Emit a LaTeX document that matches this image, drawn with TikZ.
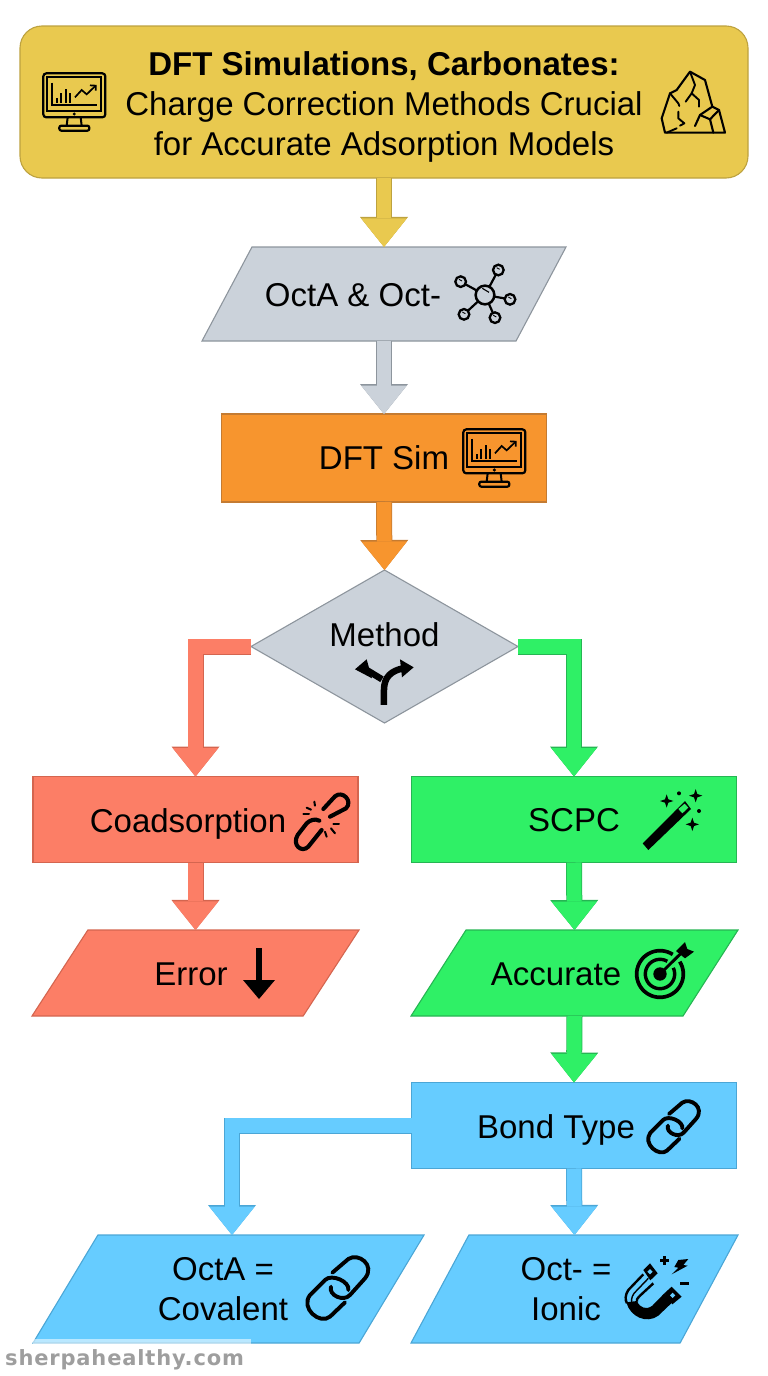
\documentclass[tikz,border=0pt]{standalone}
\usepackage{fontspec}
\setmainfont{Liberation Sans}
\newfontfamily\markfont[LetterSpace=4]{DejaVu Sans}
\usetikzlibrary{shapes.geometric}
\usetikzlibrary{arrows.meta}

\definecolor{titlefill}{HTML}{E9C94F}
\definecolor{titleedge}{HTML}{BDA23F}
\definecolor{greyfill}{HTML}{CBD2DA}
\definecolor{greyedge}{HTML}{8D959D}
\definecolor{orangefill}{HTML}{F7952E}
\definecolor{orangeedge}{HTML}{C47B32}
\definecolor{redfill}{HTML}{FC7E66}
\definecolor{rededge}{HTML}{D4654F}
\definecolor{greenfill}{HTML}{2FF066}
\definecolor{greenedge}{HTML}{26B553}
\definecolor{bluefill}{HTML}{66CCFF}
\definecolor{blueedge}{HTML}{4BA6D6}

\tikzset{
    flowfont/.style={font=\fontsize{33}{40}\selectfont},
    flowbox/.style={rectangle, draw=#1edge, fill=#1fill, line width=1.1pt, inner sep=0pt, outer sep=0pt, minimum width=325pt, minimum height=86pt},
    flowpara/.style={trapezium, draw=#1edge, fill=#1fill, line width=1.1pt, inner sep=0pt, outer sep=0pt, trapezium stretches body=true},
    flowlabel/.style={flowfont, text=black, inner sep=0pt, text height=24pt, text depth=0pt},
    twolabel/.style={flowfont, text=black, inner sep=0pt, align=center},
    % block arrow, outline first and then the body
    flowarrow/.style={draw=#1fill, line width=14.5pt, line join=miter, -{Triangle[length=28.5pt,width=45.5pt,line width=0pt]},
        preaction={draw=#1edge, line width=16pt, -{Triangle[length=30pt,width=48pt,line width=0pt]}}},
    monitoricon/.pic={
        \draw[line width=2.2pt, rounded corners=3pt] (40,40) rectangle (226,172);
        \draw[line width=2pt] (52,52) rectangle (214,153);
        \draw[line width=1.7pt] (65,68) -- (65,135) -- (200,135);
        \foreach \barx/\bary in {80/115, 93/100, 107/88, 120/100}
            \draw[line width=1.7pt] (\barx,\bary) -- (\barx,130);
        \draw[line width=1.7pt] (135,112) -- (155,90) -- (170,103) -- (197,77);
        \draw[line width=1.7pt] (180,76) -- (197,77) -- (197,92);
        \fill (133,162) circle (5);
        \draw[line width=2pt] (113,172) -- (110,197);
        \draw[line width=2pt] (152,172) -- (155,197);
        \draw[line width=2.2pt, rounded corners=2pt] (88,197) rectangle (178,212);
    },
    rockicon/.pic={
        \draw[line width=2.1pt, line join=round, line cap=round] (45,218) -- (35,175) -- (60,100) -- (80,90) -- (120,35) -- (165,60) -- (187,140) -- (207,150) -- (225,218) -- cycle;
        \draw[line width=2.1pt, line join=round, line cap=round] (135,198) -- (150,165) -- (187,140);
        \draw[line width=2.1pt, line join=round, line cap=round] (150,165) -- (180,178) -- (190,218);
        \draw[line width=2.1pt, line cap=round] (180,178) -- (207,150);
        \draw[line width=1.9pt, line join=round, line cap=round] (120,35) -- (135,75) -- (125,100) -- (107,125);
        \draw[line width=1.9pt, line join=round, line cap=round] (125,100) -- (147,120) -- (147,140);
        \draw[line width=1.9pt, line join=round, line cap=round] (60,100) -- (85,130) -- (88,138);
        \draw[line width=1.9pt, line join=round, line cap=round] (85,155) -- (85,175) -- (103,190) -- (90,197);
        \draw[line width=1.9pt, line cap=round] (80,205) -- (50,218);
    },
    moleculeicon/.pic={
        \foreach \satx/\saty in {160/45, 47/80, 195/133, 150/188, 57/178} {
            \draw[line width=2.2pt] (120,120) -- (\satx,\saty);
            \draw[line width=2.3pt, fill=greyfill] (\satx,\saty) circle (16);
            \draw[line width=.9pt] (\satx-5,\saty-7) -- (\satx+4,\saty-2);
        }
        \draw[line width=2.5pt, fill=greyfill] (120,120) circle (28);
        \draw[line width=1.1pt] (112,100) -- (132,112);
    },
    forkicon/.pic={
        \draw[line width=6.5pt] (642,915) -- (642,870) .. controls (642,830) and (665,812) .. (700,805);
        \fill (690,778) -- (731,802) -- (696,832) -- cycle;
        \draw[line width=6.5pt] (636,838) -- (590,810);
        \fill (555,808) -- (590,778) -- (606,835) -- cycle;
    },
    brokenlinkicon/.pic={
        \draw[line width=4.1pt, line cap=round, line join=round] (115,72) -- (150,34) .. controls (172,15) and (205,48) .. (183,70) -- (135,95);
        \draw[line width=4.1pt, line cap=round] (103,107) .. controls (90,100) and (75,105) .. (65,115) -- (38,150) .. controls (20,180) and (50,205) .. (70,185) -- (110,135);
        \foreach \sparkx/\sparky/\sparku/\sparkv in {88/50/90/62, 65/68/78/74, 55/88/72/88, 120/140/125/155, 138/130/150/145, 145/118/162/118}
            \draw[line width=2pt, line cap=round] (\sparkx,\sparky) -- (\sparku,\sparkv);
    },
    wandicon/.pic={
        \fill (23,175) -- (40,195) -- (168,72) -- (150,48) -- cycle;
        \fill[greenfill] (130,72) -- (142,85) -- (160,68) -- (149,56) -- cycle;
        \fill (117,82) -- (132,98) -- (142,88) -- (127,72) -- cycle;
        \foreach \starx/\stary in {95/48, 182/32, 172/118}
            \fill[shift={(\starx,\stary)}] (0,-20) -- (5,-5) -- (20,0) -- (5,5) -- (0,20) -- (-5,5) -- (-20,0) -- (-5,-5) -- cycle;
        \fill (132,25) circle (6);
        \fill (192,78) circle (6);
    },
    targeticon/.pic={
        \draw[line width=3.7pt] plot[domain=-32:303, samples=50] ({90+70*cos(\x)},{102+70*sin(\x)});
        \draw[line width=3.4pt] plot[domain=-25:300, samples=40] ({90+44*cos(\x)},{102+44*sin(\x)});
        \fill (90,102) circle (20);
        \draw[line width=2.9pt] (90,102) -- (155,38);
        \fill (138,33) -- (165,6) -- (172,27) -- (192,35) -- (165,55) -- cycle;
    },
    chainicon/.pic={
        \draw[line width=3.9pt, line cap=round] (112,83) -- (160,42) .. controls (190,22) and (242,60) .. (210,100) -- (165,150) .. controls (145,172) and (100,150) .. (108,125);
        \draw[line width=3.9pt, line cap=round] (150,172) -- (105,215) .. controls (75,240) and (15,190) .. (45,150) -- (90,105) .. controls (110,85) and (165,110) .. (160,135);
    },
    magneticon/.pic={
        \draw[line width=2.4pt] (85,88) -- (40,135) .. controls (30,150) and (30,165) .. (36,175);
        \draw[line width=2.4pt] (115,115) -- (75,152) .. controls (65,162) and (64,166) .. (66,170);
        \draw[line width=1.4pt] (100,100) -- (57,145) .. controls (48,158) and (48,170) .. (52,180);
        \fill (34,172) .. controls (45,215) and (95,238) .. (130,212) -- (172,172) -- (148,145) -- (112,182) .. controls (95,195) and (75,190) .. (66,168) -- cycle;
        \fill (85,75) -- (105,55) -- (128,85) -- (106,106) -- cycle;
        \fill[bluefill] (105,72) -- (113,80) -- (105,88) -- (97,80) -- cycle;
        \fill (148,145) -- (170,125) -- (200,155) -- (172,178) -- cycle;
        \fill[bluefill] (173,143) -- (181,151) -- (173,159) -- (165,151) -- cycle;
        \draw[line width=2.4pt] (148,33) -- (148,60);
        \draw[line width=2.4pt] (135,47) -- (161,47);
        \draw[line width=2.4pt] (195,115) -- (222,115);
        \fill (190,45) -- (220,42) -- (205,60) -- (218,62) -- (170,88) -- (190,68) -- (178,66) -- cycle;
    },
}

\begin{document}
\begin{tikzpicture}[x=1pt, y=-1pt]
    \useasboundingbox (0,0) rectangle (768,1376);

    % boxes, top to bottom
    \node[rectangle, rounded corners=22pt, draw=titleedge, fill=titlefill, line width=1.1pt, inner sep=0pt, outer sep=0pt, minimum width=728pt, minimum height=152pt, flowfont, align=center] (title) at (384,102) {\rule{0pt}{33pt}\textbf{DFT Simulations, Carbonates:}\\Charge Correction Methods Crucial\\for Accurate Adsorption Models};
    \node[flowpara=grey, trapezium left angle=62, trapezium right angle=118, minimum width=364pt] (octmol) at (384,294) {\rule{0pt}{94pt}};
    \node[flowlabel] (octmoltext) at (353,294.5) {OctA \& Oct-};
    \node[flowbox=orange, flowfont, minimum height=88pt] (dftsim) at (384,458) {DFT Sim};
    \node[diamond, aspect=1.745, draw=greyedge, fill=greyfill, line width=1.1pt, inner sep=0pt, outer sep=0pt, minimum width=267pt, minimum height=153pt] (method) at (384.5,646.5) {};
    \node[flowlabel] (methodtext) at (384.5,634.5) {Method};

    % left branch
    \node[flowbox=red] (coad) at (195.5,819.5) {};
    \node[flowlabel] (coadtext) at (188,820) {Coadsorption};
    \node[flowpara=red, trapezium left angle=57, trapezium right angle=123, minimum width=327pt] (error) at (195.5,973) {\rule{0pt}{86pt}};
    \node[flowlabel] (errortext) at (191,973.5) {Error};

    % right branch
    \node[flowbox=green, flowfont, text height=24pt, text depth=0pt] (scpc) at (574,819.5) {SCPC};
    \node[flowpara=green, trapezium left angle=57.4, trapezium right angle=122.6, minimum width=327pt] (accurate) at (574.5,973) {\rule{0pt}{86pt}};
    \node[flowlabel] (accuratetext) at (556,973.5) {Accurate};
    \node[flowbox=blue] (bond) at (574,1125.5) {};
    \node[flowlabel] (bondtext) at (556,1126) {Bond Type};
    \node[flowpara=blue, trapezium left angle=59, trapezium right angle=121, minimum width=391pt] (covalent) at (228.5,1289) {\rule{0pt}{108pt}};
    \node[twolabel] (covalenttext) at (223,1289) {OctA =\\Covalent};
    \node[flowpara=blue, trapezium left angle=61.8, trapezium right angle=118.2, minimum width=327pt] (ionic) at (574.5,1289) {\rule{0pt}{108pt}};
    \node[twolabel] (ionictext) at (566,1289) {Oct- =\\Ionic};
    \coordinate (covalenttop) at (232,1235);

    % connectors
    \draw[flowarrow=title] (title.south) -- (octmol.north);
    \draw[flowarrow=grey] (octmol.south) -- (dftsim.north);
    \draw[flowarrow=orange] (dftsim.south) -- (method.north);
    \draw[flowarrow=red] (method.west) -| (coad.north);
    \draw[flowarrow=green] (method.east) -| (scpc.north);
    \draw[flowarrow=red] (coad.south) -- (error.north);
    \draw[flowarrow=green] (scpc.south) -- (accurate.north);
    \draw[flowarrow=green] (accurate.south) -- (bond.north);
    \draw[flowarrow=blue] (bond.west) -| (covalenttop);
    \draw[flowarrow=blue] (bond.south) -- (ionic.north);

    % icons
    \pic[scale=0.3333] at (30,60) {monitoricon};
    \pic[scale=0.3333] at (650,60) {rockicon};
    \pic[scale=0.3333] at (445,255) {moleculeicon};
    \pic[scale=0.3333] at (450,416) {monitoricon};
    \pic[scale=0.3333] at (170,400) {forkicon};
    \pic[scale=0.3333] at (285,785) {brokenlinkicon};
    \pic[scale=0.3333] at (635,785) {wandicon};
    \pic[scale=0.3333] at (630,940) {targeticon};
    \pic[scale=0.277] at (638,1091) {chainicon};
    \pic[scale=0.3333] at (295,1245) {chainicon};
    \pic[scale=0.3333] at (615,1245) {magneticon};
    \fill (256,948) rectangle (262,982);
    \fill (243,980) -- (275,980) -- (259,999) -- cycle;

    % watermark along the bottom
    \fill[white, opacity=0.55] (33,1339) rectangle (251,1346);
    \node[font=\markfont\bfseries\fontsize{21}{24}\selectfont, text=black!38, inner sep=0pt, anchor=west] (watermark) at (5,1360) {sherpahealthy.com};
\end{tikzpicture}
\end{document}
